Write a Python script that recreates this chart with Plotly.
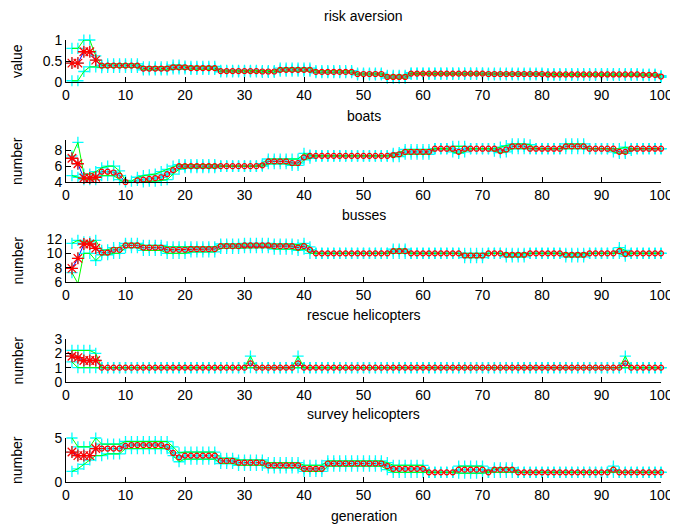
import plotly.graph_objects as go

generations = list(range(1, 101))

titles = ["risk aversion", "boats", "busses", "rescue helicopters", "survey helicopters"]
ylabels = ["value", "number", "number", "number", "number"]
y_ranges = [[0, 1], [4, 9.3], [6, 12], [0, 3], [0, 5]]
y_ticks = [[0, 0.5, 1], [4, 6, 8], [6, 8, 10, 12], [0, 1, 2, 3], [0, 5]]
y_ticktext = [["0", "0.5", "1"], ["4", "6", "8"], ["6", "8", "10", "12"], ["0", "1", "2", "3"], ["0", "5"]]
x_ticks = [0, 10, 20, 30, 40, 50, 60, 70, 80, 90, 100]

# ---------------- risk aversion ----------------
risk_mean = [0.45, 0.45, 0.72, 0.72, 0.52, 0.39, 0.39, 0.39, 0.39, 0.39,
             0.39, 0.39, 0.32, 0.32, 0.32, 0.32, 0.32, 0.35, 0.35, 0.35,
             0.33, 0.33, 0.33, 0.33, 0.33, 0.26, 0.26, 0.26, 0.26, 0.26,
             0.26, 0.26, 0.25, 0.25, 0.25, 0.29, 0.29, 0.29, 0.29, 0.29,
             0.29, 0.24, 0.24, 0.24, 0.24, 0.24, 0.24, 0.24, 0.19, 0.19,
             0.19, 0.19, 0.19, 0.12, 0.12, 0.12, 0.12, 0.20, 0.20, 0.20,
             0.20, 0.20, 0.20, 0.20, 0.20, 0.20, 0.20, 0.20, 0.20, 0.20,
             0.19, 0.19, 0.19, 0.19, 0.19, 0.19, 0.19, 0.19, 0.19, 0.19,
             0.18, 0.18, 0.18, 0.18, 0.18, 0.18, 0.18, 0.18, 0.18, 0.18,
             0.18, 0.18, 0.18, 0.18, 0.18, 0.18, 0.17, 0.17, 0.17, 0.13]
risk_max = [0.80, 0.80, 1.00, 1.00, 0.62, 0.40, 0.43, 0.43, 0.43, 0.43,
            0.43, 0.43, 0.36, 0.36, 0.36, 0.36, 0.36, 0.40, 0.40, 0.38,
            0.37, 0.37, 0.37, 0.37, 0.37, 0.28, 0.28, 0.28, 0.28, 0.28,
            0.28, 0.28, 0.27, 0.27, 0.27, 0.33, 0.33, 0.33, 0.33, 0.33,
            0.33, 0.27, 0.27, 0.27, 0.27, 0.27, 0.27, 0.27, 0.21, 0.21,
            0.21, 0.21, 0.21, 0.16, 0.16, 0.16, 0.16, 0.22, 0.22, 0.22,
            0.22, 0.22, 0.22, 0.22, 0.22, 0.22, 0.22, 0.22, 0.22, 0.22,
            0.21, 0.21, 0.21, 0.21, 0.21, 0.21, 0.21, 0.21, 0.21, 0.21,
            0.20, 0.20, 0.20, 0.20, 0.20, 0.20, 0.20, 0.20, 0.20, 0.20,
            0.20, 0.20, 0.20, 0.20, 0.20, 0.20, 0.19, 0.19, 0.19, 0.15]
risk_min = [0.03, 0.03, 0.25, 0.36, 0.36, 0.34, 0.35, 0.35, 0.35, 0.35,
            0.35, 0.35, 0.29, 0.29, 0.29, 0.29, 0.29, 0.31, 0.31, 0.31,
            0.30, 0.30, 0.30, 0.30, 0.30, 0.24, 0.24, 0.24, 0.24, 0.24,
            0.24, 0.24, 0.23, 0.23, 0.23, 0.26, 0.26, 0.26, 0.26, 0.26,
            0.26, 0.22, 0.22, 0.22, 0.22, 0.22, 0.22, 0.22, 0.17, 0.17,
            0.17, 0.17, 0.17, 0.09, 0.09, 0.09, 0.09, 0.18, 0.18, 0.18,
            0.18, 0.18, 0.18, 0.18, 0.18, 0.18, 0.18, 0.18, 0.18, 0.18,
            0.17, 0.17, 0.17, 0.17, 0.17, 0.17, 0.17, 0.17, 0.17, 0.17,
            0.16, 0.16, 0.16, 0.16, 0.16, 0.16, 0.16, 0.16, 0.16, 0.16,
            0.16, 0.16, 0.16, 0.16, 0.16, 0.16, 0.15, 0.15, 0.15, 0.11]

# ---------------- boats ----------------
boats_mean = [7.0, 6.3, 4.5, 4.5, 4.6, 5.3, 5.3, 5.2, 4.8, 4.0,
              3.9, 4.2, 4.3, 4.4, 4.5, 4.6, 5.0, 5.5, 6.0, 6.0,
              6.0, 6.0, 6.0, 6.0, 6.0, 6.0, 6.0, 6.0, 6.0, 6.0,
              6.0, 6.0, 6.1, 6.6, 6.6, 6.6, 6.6, 6.4, 6.4, 7.1,
              7.3, 7.3, 7.3, 7.3, 7.3, 7.3, 7.3, 7.3, 7.3, 7.3,
              7.3, 7.3, 7.3, 7.3, 7.4, 7.5, 7.8, 7.8, 7.8, 7.8,
              7.8, 8.2, 8.2, 8.2, 8.2, 7.8, 8.2, 8.2, 8.2, 8.2,
              8.2, 8.2, 7.9, 8.1, 8.5, 8.5, 8.5, 8.2, 8.2, 8.2,
              8.2, 8.2, 8.2, 8.5, 8.5, 8.5, 8.5, 8.2, 8.2, 8.2,
              8.2, 8.2, 7.8, 7.8, 8.2, 8.2, 8.2, 8.2, 8.2, 8.2]
boats_max = [7.3, 9.0, 5.0, 5.0, 5.3, 5.8, 6.0, 6.0, 5.4, 4.2,
             4.1, 4.6, 4.8, 4.9, 5.0, 5.3, 5.6, 6.0, 6.2, 6.2,
             6.2, 6.2, 6.2, 6.2, 6.2, 6.0, 6.0, 6.0, 6.0, 6.0,
             6.0, 6.0, 6.3, 6.9, 6.9, 6.9, 6.9, 6.9, 6.9, 7.6,
             7.4, 7.3, 7.3, 7.3, 7.3, 7.3, 7.3, 7.3, 7.3, 7.3,
             7.3, 7.3, 7.3, 7.3, 7.6, 7.7, 8.1, 8.1, 8.1, 8.1,
             8.1, 8.2, 8.2, 8.2, 8.5, 8.5, 8.5, 8.2, 8.2, 8.2,
             8.2, 8.2, 8.4, 8.6, 8.8, 8.8, 8.8, 8.7, 8.2, 8.2,
             8.2, 8.2, 8.2, 8.8, 8.8, 8.8, 8.8, 8.2, 8.2, 8.2,
             8.2, 8.2, 8.2, 8.4, 8.2, 8.2, 8.2, 8.2, 8.2, 8.2]
boats_min = [4.8, 4.6, 4.3, 4.3, 4.3, 4.8, 4.8, 4.8, 4.3, 3.8,
             3.8, 3.9, 4.0, 4.1, 4.1, 4.2, 4.3, 5.0, 5.6, 5.8,
             5.8, 5.8, 5.8, 5.8, 5.8, 6.0, 6.0, 6.0, 6.0, 6.0,
             6.0, 6.0, 6.0, 6.3, 6.3, 6.3, 6.3, 6.1, 6.1, 6.8,
             7.0, 7.3, 7.3, 7.3, 7.3, 7.3, 7.3, 7.3, 7.3, 7.3,
             7.3, 7.3, 7.3, 7.3, 7.2, 7.2, 7.5, 7.5, 7.5, 7.5,
             7.5, 8.2, 8.2, 8.2, 7.8, 7.6, 7.8, 8.2, 8.2, 8.2,
             8.2, 7.9, 7.7, 7.8, 8.2, 8.2, 8.2, 8.2, 8.2, 8.2,
             8.2, 8.2, 8.2, 8.2, 8.2, 8.2, 8.2, 8.2, 8.2, 8.2,
             8.2, 7.8, 7.6, 7.6, 8.0, 8.2, 8.2, 8.2, 8.2, 8.2]

# ---------------- busses ----------------
busses_mean = [7.9, 9.3, 11.3, 11.3, 10.7, 10.1, 10.1, 10.5, 10.5, 11.1,
               11.1, 11.1, 10.8, 10.8, 10.8, 10.8, 10.5, 10.5, 10.5, 10.5,
               10.6, 10.6, 10.6, 10.6, 10.6, 11.0, 11.0, 11.0, 11.0, 11.1,
               11.1, 11.1, 11.1, 11.1, 11.0, 11.0, 11.0, 11.0, 10.8, 11.0,
               10.5, 10.0, 10.0, 10.0, 10.0, 10.0, 10.0, 10.0, 10.0, 10.0,
               10.0, 10.0, 10.0, 10.0, 10.3, 10.3, 10.3, 10.0, 10.0, 10.0,
               10.0, 10.0, 10.0, 10.0, 10.0, 10.0, 9.7, 9.7, 9.7, 9.7,
               10.0, 10.0, 10.0, 9.8, 9.8, 9.8, 9.8, 10.0, 10.0, 10.0,
               10.0, 10.0, 10.0, 9.8, 9.8, 9.8, 9.8, 10.0, 10.0, 10.0,
               10.0, 10.0, 10.3, 9.9, 10.0, 10.0, 10.0, 10.0, 10.0, 10.0]
busses_max = [11.4, 11.8, 11.6, 11.6, 11.8, 10.4, 10.5, 10.8, 10.8, 11.4,
              11.4, 11.4, 11.1, 11.1, 11.1, 11.1, 10.9, 10.9, 10.9, 10.9,
              10.9, 10.9, 10.9, 10.9, 10.9, 11.3, 11.3, 11.3, 11.3, 11.4,
              11.4, 11.4, 11.4, 11.4, 11.3, 11.3, 11.3, 11.3, 11.2, 11.4,
              10.9, 10.0, 10.0, 10.0, 10.0, 10.0, 10.0, 10.0, 10.0, 10.0,
              10.0, 10.0, 10.0, 10.0, 10.6, 10.6, 10.6, 10.0, 10.0, 10.0,
              10.0, 10.0, 10.0, 10.0, 10.0, 10.0, 10.0, 10.0, 10.0, 10.0,
              10.0, 10.0, 10.0, 10.0, 10.0, 10.0, 10.0, 10.0, 10.0, 10.0,
              10.0, 10.0, 10.0, 10.0, 10.0, 10.0, 10.0, 10.0, 10.0, 10.0,
              10.0, 10.0, 10.8, 10.4, 10.0, 10.0, 10.0, 10.0, 10.0, 10.0]
busses_min = [7.3, 5.8, 10.0, 10.0, 9.0, 9.8, 9.8, 10.0, 10.0, 10.8,
              10.8, 10.8, 10.4, 10.4, 10.4, 10.4, 10.0, 10.0, 10.0, 10.0,
              10.2, 10.2, 10.2, 10.2, 10.2, 10.7, 10.7, 10.7, 10.7, 10.8,
              10.8, 10.8, 10.8, 10.8, 10.6, 10.6, 10.6, 10.6, 10.4, 10.6,
              10.0, 10.0, 10.0, 10.0, 10.0, 10.0, 10.0, 10.0, 10.0, 10.0,
              10.0, 10.0, 10.0, 10.0, 10.0, 10.0, 10.0, 10.0, 10.0, 10.0,
              10.0, 10.0, 10.0, 10.0, 10.0, 10.0, 9.4, 9.4, 9.4, 9.4,
              10.0, 10.0, 10.0, 9.5, 9.5, 9.5, 9.5, 10.0, 10.0, 10.0,
              10.0, 10.0, 10.0, 9.5, 9.5, 9.5, 9.5, 10.0, 10.0, 10.0,
              10.0, 10.0, 10.0, 9.6, 10.0, 10.0, 10.0, 10.0, 10.0, 10.0]

# ---------------- rescue helicopters ----------------
rescue_mean = [1.8, 1.7, 1.5, 1.5, 1.5, 1.0, 1.0, 1.0, 1.0, 1.0,
               1.0, 1.0, 1.0, 1.0, 1.0, 1.0, 1.0, 1.0, 1.0, 1.0,
               1.0, 1.0, 1.0, 1.0, 1.0, 1.0, 1.0, 1.0, 1.0, 1.0,
               1.3, 1.0, 1.0, 1.0, 1.0, 1.0, 1.0, 1.0, 1.3, 1.0,
               1.0, 1.0, 1.0, 1.0, 1.0, 1.0, 1.0, 1.0, 1.0, 1.0,
               1.0, 1.0, 1.0, 1.0, 1.0, 1.0, 1.0, 1.0, 1.0, 1.0,
               1.0, 1.0, 1.0, 1.0, 1.0, 1.0, 1.0, 1.0, 1.0, 1.0,
               1.0, 1.0, 1.0, 1.0, 1.0, 1.0, 1.0, 1.0, 1.0, 1.0,
               1.0, 1.0, 1.0, 1.0, 1.0, 1.0, 1.0, 1.0, 1.0, 1.0,
               1.0, 1.0, 1.0, 1.3, 1.0, 1.0, 1.0, 1.0, 1.0, 1.0]
rescue_max = [2.2, 2.2, 2.2, 2.2, 2.0, 1.0, 1.0, 1.0, 1.0, 1.0,
              1.0, 1.0, 1.0, 1.0, 1.0, 1.0, 1.0, 1.0, 1.0, 1.0,
              1.0, 1.0, 1.0, 1.0, 1.0, 1.0, 1.0, 1.0, 1.0, 1.0,
              1.8, 1.0, 1.0, 1.0, 1.0, 1.0, 1.0, 1.0, 1.8, 1.0,
              1.0, 1.0, 1.0, 1.0, 1.0, 1.0, 1.0, 1.0, 1.0, 1.0,
              1.0, 1.0, 1.0, 1.0, 1.0, 1.0, 1.0, 1.0, 1.0, 1.0,
              1.0, 1.0, 1.0, 1.0, 1.0, 1.0, 1.0, 1.0, 1.0, 1.0,
              1.0, 1.0, 1.0, 1.0, 1.0, 1.0, 1.0, 1.0, 1.0, 1.0,
              1.0, 1.0, 1.0, 1.0, 1.0, 1.0, 1.0, 1.0, 1.0, 1.0,
              1.0, 1.0, 1.0, 1.8, 1.0, 1.0, 1.0, 1.0, 1.0, 1.0]
rescue_min = [1.4, 1.0, 1.0, 1.0, 1.0, 1.0, 1.0, 1.0, 1.0, 1.0,
              1.0, 1.0, 1.0, 1.0, 1.0, 1.0, 1.0, 1.0, 1.0, 1.0,
              1.0, 1.0, 1.0, 1.0, 1.0, 1.0, 1.0, 1.0, 1.0, 1.0,
              1.0, 1.0, 1.0, 1.0, 1.0, 1.0, 1.0, 1.0, 1.0, 1.0,
              1.0, 1.0, 1.0, 1.0, 1.0, 1.0, 1.0, 1.0, 1.0, 1.0,
              1.0, 1.0, 1.0, 1.0, 1.0, 1.0, 1.0, 1.0, 1.0, 1.0,
              1.0, 1.0, 1.0, 1.0, 1.0, 1.0, 1.0, 1.0, 1.0, 1.0,
              1.0, 1.0, 1.0, 1.0, 1.0, 1.0, 1.0, 1.0, 1.0, 1.0,
              1.0, 1.0, 1.0, 1.0, 1.0, 1.0, 1.0, 1.0, 1.0, 1.0,
              1.0, 1.0, 1.0, 1.0, 1.0, 1.0, 1.0, 1.0, 1.0, 1.0]

# ---------------- survey helicopters ----------------
survey_mean = [3.4, 3.0, 3.0, 3.0, 3.8, 3.8, 3.8, 3.8, 3.8, 4.1,
               4.2, 4.2, 4.2, 4.2, 4.2, 4.2, 4.0, 3.3, 2.8, 3.0,
               3.0, 3.0, 3.0, 3.0, 3.0, 2.4, 2.4, 2.4, 2.2, 2.2,
               2.2, 2.2, 2.2, 1.9, 1.9, 1.9, 1.9, 1.9, 1.9, 1.5,
               1.5, 1.5, 1.5, 2.1, 2.1, 2.1, 2.1, 2.1, 2.1, 2.1,
               2.1, 2.1, 2.1, 1.8, 1.5, 1.5, 1.5, 1.5, 1.5, 1.5,
               1.1, 1.1, 1.1, 1.1, 1.1, 1.4, 1.4, 1.4, 1.4, 1.4,
               1.1, 1.4, 1.4, 1.4, 1.4, 1.1, 1.1, 1.1, 1.1, 1.1,
               1.1, 1.1, 1.1, 1.1, 1.1, 1.1, 1.1, 1.1, 1.1, 1.1,
               1.1, 1.4, 1.1, 1.1, 1.1, 1.1, 1.1, 1.1, 1.1, 1.1]
survey_max = [5.0, 4.0, 4.0, 4.0, 5.0, 4.3, 4.3, 4.3, 4.3, 4.6,
              4.6, 4.6, 4.6, 4.6, 4.6, 4.6, 4.6, 4.0, 3.3, 3.4,
              3.4, 3.4, 3.4, 3.4, 3.4, 2.7, 2.7, 2.7, 2.5, 2.5,
              2.5, 2.5, 2.5, 2.2, 2.2, 2.2, 2.2, 2.2, 2.2, 1.9,
              1.9, 1.9, 1.9, 2.4, 2.4, 2.4, 2.4, 2.4, 2.4, 2.4,
              2.4, 2.4, 2.4, 2.2, 1.9, 1.9, 1.9, 1.9, 1.9, 1.9,
              1.1, 1.1, 1.1, 1.1, 1.1, 1.8, 1.8, 1.8, 1.8, 1.8,
              1.1, 1.6, 1.6, 1.6, 1.6, 1.1, 1.1, 1.1, 1.1, 1.1,
              1.1, 1.1, 1.1, 1.1, 1.1, 1.1, 1.1, 1.1, 1.1, 1.1,
              1.1, 1.8, 1.1, 1.1, 1.1, 1.1, 1.1, 1.1, 1.1, 1.1]
survey_min = [1.2, 1.5, 2.0, 2.5, 3.0, 3.0, 3.2, 3.2, 3.2, 3.8,
              3.8, 3.8, 3.8, 3.8, 3.8, 3.8, 3.8, 3.0, 2.3, 2.6,
              2.6, 2.6, 2.6, 2.6, 2.6, 2.1, 2.1, 2.1, 1.9, 1.9,
              1.9, 1.9, 1.9, 1.6, 1.6, 1.6, 1.6, 1.6, 1.6, 1.2,
              1.2, 1.2, 1.2, 1.8, 1.8, 1.8, 1.8, 1.8, 1.8, 1.8,
              1.8, 1.8, 1.8, 1.4, 1.1, 1.1, 1.1, 1.1, 1.1, 1.1,
              1.1, 1.1, 1.1, 1.1, 1.1, 1.0, 1.0, 1.0, 1.0, 1.0,
              1.1, 1.1, 1.1, 1.1, 1.1, 1.1, 1.1, 1.1, 1.1, 1.1,
              1.1, 1.1, 1.1, 1.1, 1.1, 1.1, 1.1, 1.1, 1.1, 1.1,
              1.1, 1.1, 1.1, 1.1, 1.1, 1.1, 1.1, 1.1, 1.1, 1.1]

means = [risk_mean, boats_mean, busses_mean, rescue_mean, survey_mean]
maxs = [risk_max, boats_max, busses_max, rescue_max, survey_max]
mins = [risk_min, boats_min, busses_min, rescue_min, survey_min]

# ---------------- layout geometry ----------------
# The page places the figure 8 px in from the top-left corner (body margin),
# so positions below are given in window pixels and shifted by OFF.
OFF = 8
W, H = 678 - OFF, 528 - OFF
ML = 66 - OFF
MR = 678 - 661
plot_w = W - ML - MR
tops = [40, 140, 239, 339, 438]
bottoms = [82, 182, 282, 382, 482]

FONT = "Liberation Sans, Arial, Helvetica, sans-serif"
CYAN, GREEN, BLUE, RED = "#00FFFF", "#00FF00", "#0000FF", "#FF0000"


def py(p):
    return 1 - (p - OFF) / H


def px(p):
    return (p - OFF - ML) / plot_w


fig = go.Figure()
layout = dict(
    width=W, height=H,
    margin=dict(l=ML, r=MR, t=0, b=0, autoexpand=False),
    paper_bgcolor="white", plot_bgcolor="white",
    showlegend=False,
    font=dict(family=FONT, size=14, color="black"),
    annotations=[],
)

n_star = 5
for k in range(5):
    xa = "x" if k == 0 else f"x{k+1}"
    ya = "y" if k == 0 else f"y{k+1}"
    m, hi, lo = means[k], maxs[k], mins[k]
    # mean line (blue), drawn underneath
    fig.add_trace(go.Scatter(x=generations, y=m, xaxis=xa, yaxis=ya,
                             mode="lines", line=dict(color=BLUE, width=1)))
    # population spread markers (cyan +)
    for series in (hi, lo, m):
        fig.add_trace(go.Scatter(x=generations, y=series, xaxis=xa, yaxis=ya,
                                 mode="markers", cliponaxis=False,
                                 marker=dict(symbol="cross-thin-open", size=8, color=CYAN,
                                             line=dict(color=CYAN, width=1.3))))
    # max / min lines (green)
    for series in (hi, lo):
        fig.add_trace(go.Scatter(x=generations, y=series, xaxis=xa, yaxis=ya,
                                 mode="lines", line=dict(color=GREEN, width=1)))
    # red dotted line with circle markers
    fig.add_trace(go.Scatter(x=generations[n_star:], y=m[n_star:], xaxis=xa, yaxis=ya,
                             mode="lines+markers", cliponaxis=False,
                             line=dict(color=RED, width=1, dash="dot"),
                             marker=dict(symbol="circle-open", size=5, color=RED,
                                         line=dict(color=RED, width=1.2))))
    # red stars for first generations
    fig.add_trace(go.Scatter(x=generations[:n_star], y=m[:n_star], xaxis=xa, yaxis=ya,
                             mode="markers", cliponaxis=False,
                             marker=dict(symbol="asterisk-open", size=10, color=RED,
                                         line=dict(color=RED, width=1.3))))

    dom = [py(bottoms[k]), py(tops[k])]
    layout["xaxis" if k == 0 else f"xaxis{k+1}"] = dict(
        domain=[0, 1], anchor=ya, range=[0, 100], tickvals=x_ticks,
        ticks="inside", ticklen=5, tickcolor="black", showline=True,
        linecolor="black", linewidth=1, showgrid=False, zeroline=False,
        automargin=False,
        tickfont=dict(family=FONT, size=14, color="black"))
    layout["yaxis" if k == 0 else f"yaxis{k+1}"] = dict(
        domain=dom, anchor=xa, range=y_ranges[k], tickvals=y_ticks[k],
        ticktext=y_ticktext[k],
        ticks="inside", ticklen=5, tickcolor="black", showline=True,
        linecolor="black", linewidth=1, showgrid=False, zeroline=False,
        automargin=False,
        tickfont=dict(family=FONT, size=14, color="black"))
    layout["annotations"].append(dict(
        text=titles[k], xref="paper", yref="paper", x=0.5,
        y=py(tops[k] - 24), showarrow=False, xanchor="center", yanchor="middle",
        font=dict(family=FONT, size=14, color="black")))
    layout["annotations"].append(dict(
        text=ylabels[k], xref="paper", yref="paper", x=px(17),
        y=py((tops[k] + bottoms[k]) / 2), showarrow=False, textangle=-90,
        xanchor="center", yanchor="middle",
        font=dict(family=FONT, size=14, color="black")))

layout["annotations"].append(dict(
    text="generation", xref="paper", yref="paper", x=0.5, y=py(516),
    showarrow=False, xanchor="center", yanchor="middle",
    font=dict(family=FONT, size=14, color="black")))

fig.update_layout(**layout)
fig.write_html("out.html")
